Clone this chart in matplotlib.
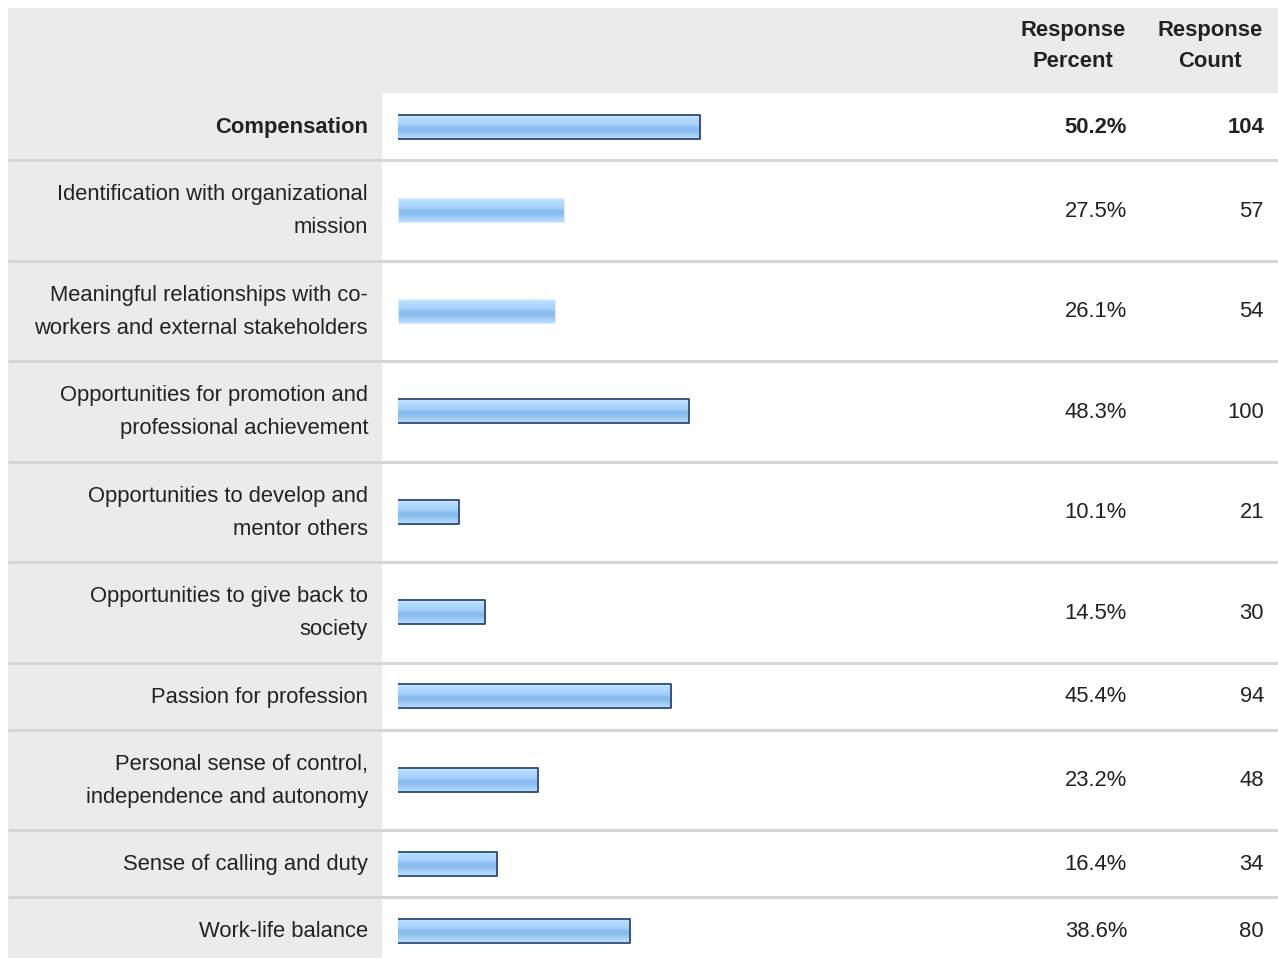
import numpy as np
import matplotlib.pyplot as plt
from matplotlib.colors import LinearSegmentedColormap

plt.rcParams['font.family'] = ['Liberation Sans', 'DejaVu Sans']

# data
categories = [
    'Compensation',
    'Identification with organizational\nmission',
    'Meaningful relationships with co-\nworkers and external stakeholders',
    'Opportunities for promotion and\nprofessional achievement',
    'Opportunities to develop and\nmentor others',
    'Opportunities to give back to\nsociety',
    'Passion for profession',
    'Personal sense of control,\nindependence and autonomy',
    'Sense of calling and duty',
    'Work-life balance',
]
percents = [50.2, 27.5, 26.1, 48.3, 10.1, 14.5, 45.4, 23.2, 16.4, 38.6]
counts = [104, 57, 54, 100, 21, 30, 94, 48, 34, 80]
header_cols = ['Response\nPercent', 'Response\nCount']

# styling per row
outlined = [True, False, False, True, True, True, True, True, True, True]
bold_row = 0

W, H = 1278, 958
gray = '#ebebeb'
txt = '#222222'
sep = '#d6d6d6'
fs = 15.8

# row layout (pixels)
header_top, header_bot = 8, 93
row_h = [67 if '\n' not in c else 100.5 for c in categories]
edges = header_bot + np.concatenate([[0], np.cumsum(row_h)])
centers = (edges[:-1] + edges[1:]) / 2

fig = plt.figure(figsize=(W / 100, H / 100), dpi=100)
bg = fig.add_axes([0, 0, 1, 1])
bg.set_xlim(0, W)
bg.set_ylim(H, 0)
bg.axis('off')

# gray panels
bg.add_patch(plt.Rectangle((8, header_top), W - 8, header_bot - header_top,
                           color=gray, lw=0, zorder=0))
bg.add_patch(plt.Rectangle((8, header_bot), 382 - 8, H - header_bot,
                           color=gray, lw=0, zorder=0))

# separators
for y in edges[1:-1]:
    bg.plot([8, W], [y, y], color=sep, lw=2.2, solid_capstyle='butt', zorder=1)

# header text
bg.text(1073, 46, header_cols[0], ha='center', va='center', fontsize=fs,
        fontweight='bold', color=txt, linespacing=1.68)
bg.text(1210, 46, header_cols[1], ha='center', va='center', fontsize=fs,
        fontweight='bold', color=txt, linespacing=1.68)

# row labels and values
for i, (cat, p, n) in enumerate(zip(categories, percents, counts)):
    fw = 'bold' if i == bold_row else 'normal'
    bg.text(368, centers[i] + 1, cat, ha='right', va='center', fontsize=fs,
            color=txt, fontweight=fw, linespacing=1.74)
    bg.text(1127, centers[i] + 1, f'{p:.1f}%', ha='right', va='center',
            fontsize=fs, color=txt, fontweight=fw)
    bg.text(1264, centers[i] + 1, str(n), ha='right', va='center',
            fontsize=fs, color=txt, fontweight=fw)

# bars
ax = fig.add_axes([398 / W, 0, (W - 398) / W, 1])
xmax = (W - 398) / 6.02
ax.set_xlim(0, xmax)
ax.set_ylim(H, 0)
ax.axis('off')

cmap = LinearSegmentedColormap.from_list('bar', [
    (0.0, '#d8ecff'), (0.12, '#b6dcff'), (0.42, '#a4d0fb'),
    (0.55, '#86b9ed'), (0.7, '#8ebfef'), (0.85, '#a6d0f9'), (1.0, '#b8dcfd')])
grad = np.linspace(0, 1, 64).reshape(-1, 1)

bar_h = 24
bars = ax.barh(centers, percents, height=bar_h, color='none', lw=0, zorder=2)
for b, o in zip(bars, outlined):
    x0, y0 = b.get_x(), b.get_y()
    w, h = b.get_width(), b.get_height()
    im = ax.imshow(grad, cmap=cmap, aspect='auto', extent=(x0, x0 + w, y0 + h, y0),
                   zorder=2, interpolation='bilinear')
    im.set_clip_path(b)
    if o:
        ax.plot([x0, x0 + w, x0 + w, x0], [y0, y0, y0 + h, y0 + h],
                color='#2c4a78', lw=1.3, zorder=3)
    else:
        ax.plot([x0, x0 + w, x0 + w, x0, x0], [y0, y0, y0 + h, y0 + h, y0],
                color='#dcecff', lw=0.8, zorder=3)
ax.set_xlim(0, xmax)
ax.set_ylim(H, 0)

fig.savefig('out.png', dpi=100)
